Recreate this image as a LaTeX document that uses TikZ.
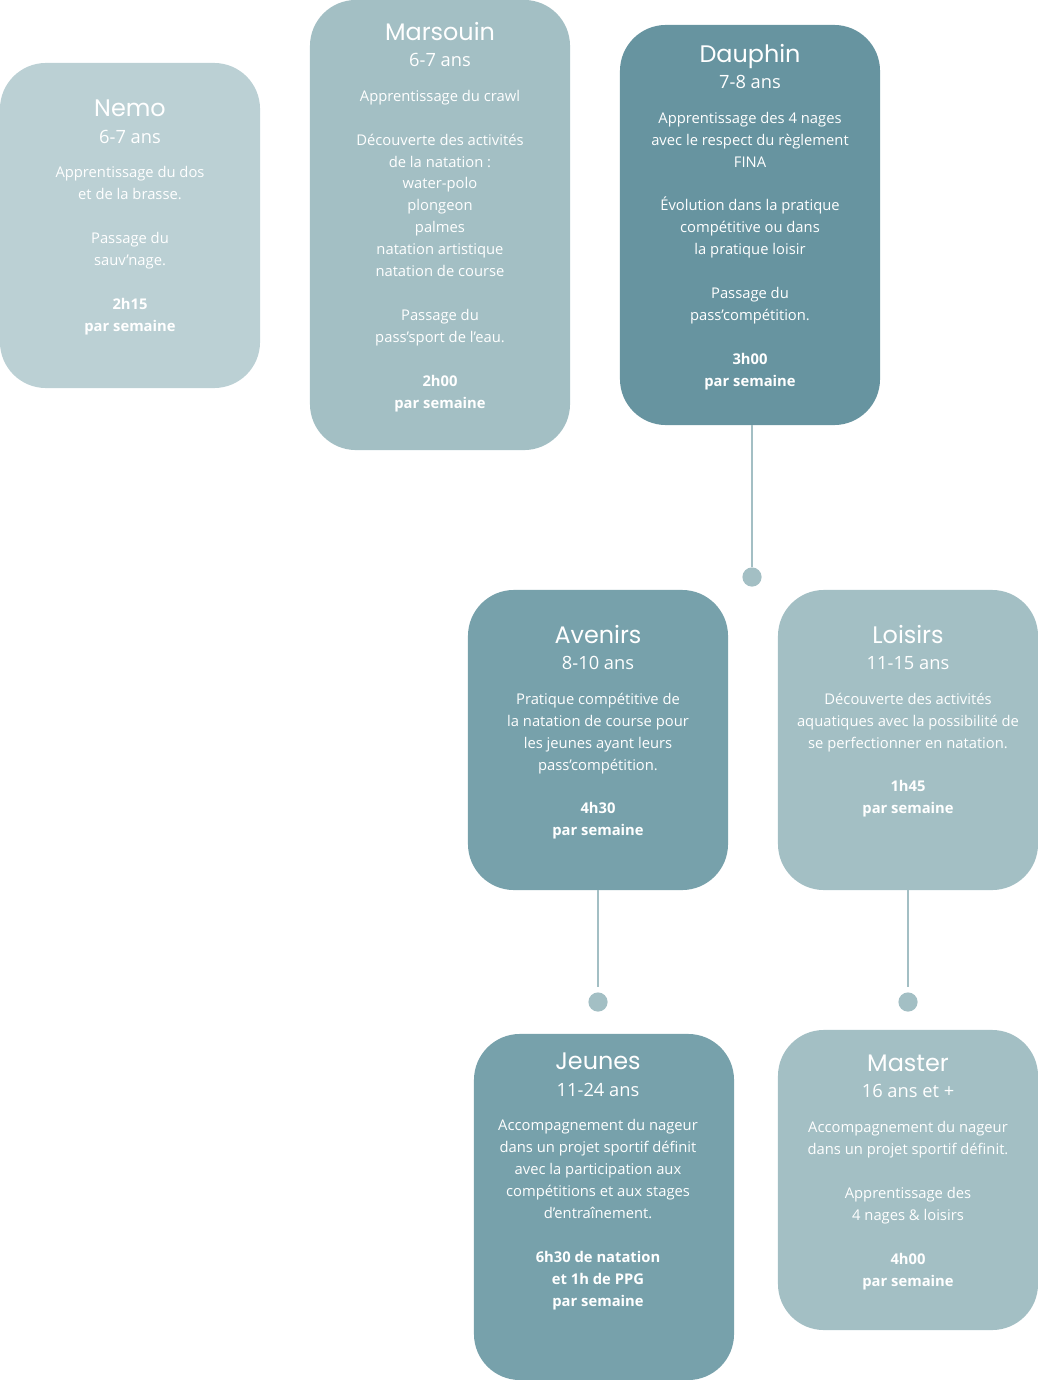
\documentclass[tikz,border=0pt]{standalone}
\usepackage{fontspec}
\setmainfont{Open Sans}
\newfontfamily\titlefont{Poppins}
\usetikzlibrary{positioning}
\definecolor{palegrey}{HTML}{BBD0D4}
\definecolor{lightteal}{HTML}{A3BFC4}
\definecolor{midteal}{HTML}{77A1AB}
\definecolor{darkteal}{HTML}{6794A0}
\newcommand{\grouptitle}[2]{{\fontsize{17}{20}\titlefont #1}\\[3pt]{\fontsize{13}{16}\selectfont #2}\\[9pt]}
\newcommand{\gap}{\\[15.6pt]}

\begin{document}
\begin{tikzpicture}[
    x=0.025cm, y=-0.025cm,
    group/.style={rectangle, rounded corners=1.15cm, inner sep=0pt, minimum width=6.5cm},
    info/.style={anchor=north, align=center, text=white, font=\fontsize{10.5}{15.6}\selectfont, inner sep=0pt},
    link/.style={lightteal, line width=1.2pt},
    dot/.style={circle, fill=lightteal, inner sep=0pt, minimum size=0.48cm}
]
\useasboundingbox (0,0) rectangle (1038,1380);

% Boxes
\node[group, fill=palegrey, minimum height=8.125cm] (nemo) at (130,225.5) {};
\node[group, fill=lightteal, minimum height=11.25cm] (marsouin) at (440,225) {};
\node[group, fill=darkteal, minimum height=10cm] (dauphin) at (750,225) {};
\node[group, fill=midteal, minimum height=7.5cm] (avenirs) at (598,740) {};
\node[group, fill=lightteal, minimum height=7.5cm] (loisirs) at (908,740) {};
\node[group, fill=midteal, minimum height=8.65cm] (jeunes) at (604,1207) {};
\node[group, fill=lightteal, minimum height=7.5cm] (master) at (908,1180) {};

% Texts
\node[info] at (130,100) {\grouptitle{Nemo}{6-7 ans}Apprentissage du dos\\et de la brasse.\gap Passage du\\sauv'nage.\gap\textbf{2h15}\\\textbf{par semaine}};
\node[info] at (440,22) {\grouptitle{Marsouin}{6-7 ans}Apprentissage du crawl\gap Découverte des activités\\de la natation :\\water-polo\\plongeon\\palmes\\natation artistique\\natation de course\gap Passage du\\pass'sport de l'eau.\gap\textbf{2h00}\\\textbf{par semaine}};
\node[info] at (750,44) {\grouptitle{Dauphin}{7-8 ans}Apprentissage des 4 nages\\avec le respect du règlement\\FINA\gap Évolution dans la pratique\\compétitive ou dans\\la pratique loisir\gap Passage du\\pass'compétition.\gap\textbf{3h00}\\\textbf{par semaine}};
\node[info] at (598,625) {\grouptitle{Avenirs}{8-10 ans}Pratique compétitive de\\la natation de course pour\\les jeunes ayant leurs\\pass'compétition.\gap\textbf{4h30}\\\textbf{par semaine}};
\node[info] at (908,625) {\grouptitle{Loisirs}{11-15 ans}Découverte des activités\\aquatiques avec la possibilité de\\se perfectionner en natation.\gap\textbf{1h45}\\\textbf{par semaine}};
\node[info] at (598,1053) {\grouptitle{Jeunes}{11-24 ans}Accompagnement du nageur\\dans un projet sportif définit\\avec la participation aux\\compétitions et aux stages\\d'entraînement.\gap\textbf{6h30 de natation}\\\textbf{et 1h de PPG}\\\textbf{par semaine}};
\node[info] at (908,1055) {\grouptitle{Master}{16 ans et +}Accompagnement du nageur\\dans un projet sportif définit.\gap Apprentissage des\\4 nages \& loisirs\gap\textbf{4h00}\\\textbf{par semaine}};

% Connectors
\node[dot] (dotA) at (752,577) {};
\node[dot] (dotB) at (598,1002) {};
\node[dot] (dotC) at (908,1002) {};
\draw[link] (dauphin.south -| dotA) -- (dotA);
\draw[link] (avenirs.south) -- (598,987);
\draw[link] (loisirs.south) -- (908,987);
\end{tikzpicture}
\end{document}
